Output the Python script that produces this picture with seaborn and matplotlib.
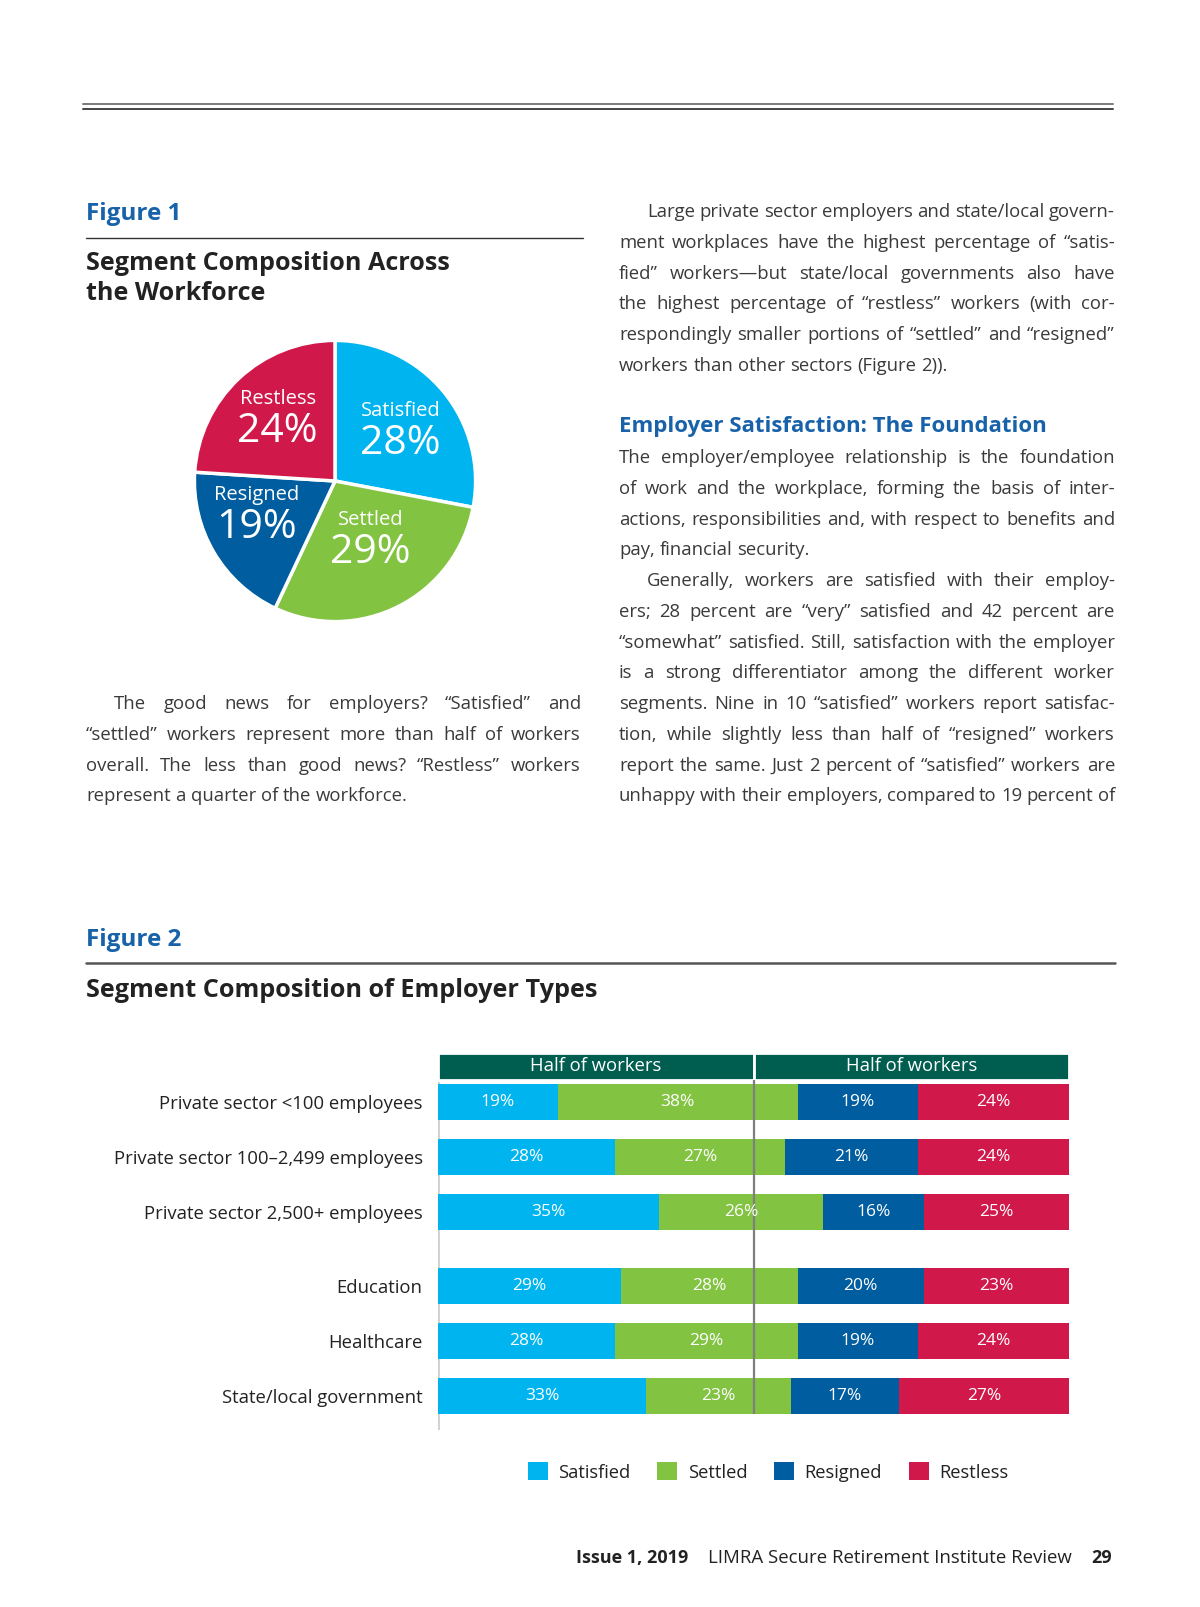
import numpy as np
import pandas as pd
import seaborn as sns
import matplotlib.pyplot as plt
from matplotlib.patches import Patch

# ---- Figure 1: pie of worker segments
pie_labels = ['Satisfied', 'Settled', 'Resigned', 'Restless']
pie_values = [28, 29, 19, 24]

# ---- Figure 2: segment composition by employer type
employers = ['Private sector <100 employees', 'Private sector 100\u20132,499 employees',
             'Private sector 2,500+ employees', 'Education', 'Healthcare',
             'State/local government']
satisfied = [19, 28, 35, 29, 28, 33]
settled = [38, 27, 26, 28, 29, 23]
resigned = [19, 21, 16, 20, 19, 17]
restless = [24, 24, 25, 23, 24, 27]
segments = ['Satisfied', 'Settled', 'Resigned', 'Restless']
header_labels = ['Half of workers', 'Half of workers']

palette = ['#00B5EF', '#82C341', '#005DA0', '#D0194A']
HEADER_GREEN = '#005E50'
BLUE = '#1862AA'
DARK = '#222222'
BODY_COLOR = '#3a3a3a'

W, H = 1200, 1607

sns.set_theme(style='white')
plt.rcParams['font.family'] = ['Open Sans', 'DejaVu Sans']

fig = plt.figure(figsize=(W / 100, H / 100), dpi=100)
fig.patch.set_facecolor('white')
renderer = fig.canvas.get_renderer()


def fx(x):
    return x / W


def fy(y):
    return 1 - y / H


def ftext(x, y, s, **kw):
    return fig.text(fx(x), fy(y), s, **kw)


def hline(x0, x1, y, color, lw):
    fig.add_artist(plt.Line2D([fx(x0), fx(x1)], [fy(y), fy(y)], color=color, lw=lw))


def text_width(s, size, weight='normal'):
    t = fig.text(0, 0, s, fontsize=size, fontweight=weight)
    w = t.get_window_extent(renderer).width
    t.remove()
    return w


BODY = 13.3


def paragraph(lines, x0, x1, y0, indent=0, last_full=False, step=30.75):
    space_w = text_width('x x', BODY) - text_width('xx', BODY)
    for i, line in enumerate(lines):
        y = y0 + i * step
        left = x0 + (indent if i == 0 else 0)
        words = line.split(' ')
        widths = [text_width(w, BODY) for w in words]
        is_last = (i == len(lines) - 1) and not last_full
        if is_last or len(words) == 1:
            gap = space_w
        else:
            gap = (x1 - left - sum(widths)) / (len(words) - 1)
        x = left
        for w, wd in zip(words, widths):
            ftext(x, y, w, fontsize=BODY, color=BODY_COLOR, va='center', ha='left')
            x += wd + gap


# ---- page furniture
hline(83, 1113, 103.5, '#7a7a7a', 1.4)
hline(83, 1113, 108.7, '#444444', 1.4)

ftext(86, 214, 'Figure 1', fontsize=17.5, fontweight='bold', color=BLUE, va='center')
hline(86, 583, 238, '#333333', 1.0)
ftext(86, 263, 'Segment Composition Across', fontsize=18.1, fontweight='bold', color=DARK, va='center')
ftext(86, 293, 'the Workforce', fontsize=18.1, fontweight='bold', color=DARK, va='center')

# ---- pie
ax_pie = fig.add_axes([fx(193), fy(623), 284 / W, 284 / H])
ax_pie.pie(pie_values, colors=palette, startangle=90, counterclock=False,
           wedgeprops=dict(edgecolor='white', linewidth=2.5))
ax_pie.set_xlim(-1.01, 1.01)
ax_pie.set_ylim(-1.01, 1.01)
ax_pie.set_aspect('equal')
ax_pie.axis('off')

label_pos = {'Satisfied': (0.465, 0.50), 'Settled': (0.254, -0.275),
             'Resigned': (-0.556, -0.099), 'Restless': (-0.408, 0.585)}
for name, val in zip(pie_labels, pie_values):
    lx, ly = label_pos[name]
    ax_pie.text(lx, ly, name, color='white', fontsize=14.5, ha='center', va='center')
    ax_pie.text(lx, ly - 0.235, '%d%%' % val, color='white', fontsize=29.5, ha='center', va='center')

# ---- body text
paragraph(['The good news for employers? \u201cSatisfied\u201d and',
           '\u201csettled\u201d workers represent more than half of workers',
           'overall. The less than good news? \u201cRestless\u201d workers',
           'represent a quarter of the workforce.'],
          86, 581, 704.2, indent=28)

paragraph(['Large private sector employers and state/local govern-',
           'ment workplaces have the highest percentage of \u201csatis-',
           'fied\u201d workers\u2014but state/local governments also have',
           'the highest percentage of \u201crestless\u201d workers (with cor-',
           'respondingly smaller portions of \u201csettled\u201d and \u201cresigned\u201d',
           'workers than other sectors (Figure 2)).'],
          619, 1115, 212.2, indent=28)

ftext(619, 426.4, 'Employer Satisfaction: The Foundation', fontsize=16, fontweight='bold',
      color=BLUE, va='center')

paragraph(['The employer/employee relationship is the foundation',
           'of work and the workplace, forming the basis of inter-',
           'actions, responsibilities and, with respect to benefits and',
           'pay, financial security.'],
          619, 1115, 458.2)

paragraph(['Generally, workers are satisfied with their employ-',
           'ers; 28 percent are \u201cvery\u201d satisfied and 42 percent are',
           '\u201csomewhat\u201d satisfied. Still, satisfaction with the employer',
           'is a strong differentiator among the different worker',
           'segments. Nine in 10 \u201csatisfied\u201d workers report satisfac-',
           'tion, while slightly less than half of \u201cresigned\u201d workers',
           'report the same. Just 2 percent of \u201csatisfied\u201d workers are',
           'unhappy with their employers, compared to 19 percent of'],
          619, 1115, 581.2, indent=28, last_full=True)

# ---- Figure 2 titles
ftext(86, 940, 'Figure 2', fontsize=17.5, fontweight='bold', color=BLUE, va='center')
hline(86, 1115, 963.5, '#555555', 1.8)
ftext(86, 990, 'Segment Composition of Employer Types', fontsize=18.2, fontweight='bold',
      color=DARK, va='center')

# ---- stacked bars
ROW = 54.8
ypos = [0, 1, 2, 3.36, 4.36, 5.36]
header_y = -0.65
top_px, bot_px = 1040, 1430
y_top = (top_px - 1102) / ROW
y_bot = (bot_px - 1102) / ROW

df = pd.DataFrame({'employer': employers, 'ypos': ypos, 'Satisfied': satisfied,
                   'Settled': settled, 'Resigned': resigned, 'Restless': restless})
cum = df[segments].cumsum(axis=1)

ax = fig.add_axes([fx(438), fy(bot_px), (1069 - 438) / W, (bot_px - top_px) / H])
for seg, col in reversed(list(zip(segments, palette))):
    sns.barplot(x=cum[seg], y=df['ypos'], orient='h', native_scale=True, color=col,
                saturation=1, width=0.66, errorbar=None, linewidth=0, ax=ax, zorder=2)

# segment value labels
for i in range(len(df)):
    start = 0
    for seg in segments:
        end = min(cum.loc[i, seg], 100)
        ax.text((start + end) / 2, df.loc[i, 'ypos'], '%d%%' % df.loc[i, seg],
                color='white', fontsize=12.5, ha='center', va='center', zorder=4)
        start = end

# header boxes
ax.barh([header_y, header_y], [50, 50], left=[0, 50], height=0.5, color=HEADER_GREEN,
        edgecolor='white', linewidth=2, zorder=3)
for k, lab in enumerate(header_labels):
    ax.text(25 + 50 * k, header_y, lab, color='white', fontsize=13.3, ha='center',
            va='center', zorder=4)

header_bottom = header_y + 0.25
ax.vlines(0, header_bottom, y_bot, color='#cfcfcf', lw=2, zorder=1)
ax.vlines(50, header_bottom, ypos[-1] + 0.33, color='#7f7f7f', lw=1.6, zorder=3)

ax.set_xlim(0, 100)
ax.set_ylim(y_bot, y_top)
ax.set_yticks(ypos)
ax.set_yticklabels(employers, fontsize=13.3, color=DARK)
ax.tick_params(axis='y', length=0, pad=11)
ax.set_xticks([])
ax.set_xlabel('')
ax.set_ylabel('')
for s in ax.spines.values():
    s.set_visible(False)

handles = [Patch(facecolor=c, edgecolor='none') for c in palette]
fig.legend(handles, segments, loc='center', bbox_to_anchor=(fx(768), fy(1472)), ncol=4,
           frameon=False, fontsize=13.2, handlelength=1.1, handleheight=1.1,
           columnspacing=1.45, handletextpad=0.57, labelcolor=DARK)

# ---- footer
ftext(688, 1558, 'Issue 1, 2019', fontsize=13, fontweight='bold', color=DARK,
      ha='right', va='center')
ftext(1072, 1558, 'LIMRA Secure Retirement Institute Review', fontsize=13.4, color=DARK,
      ha='right', va='center')
ftext(1112, 1558, '29', fontsize=13, fontweight='bold', color=DARK, ha='right', va='center')

fig.savefig('out.png', dpi=100, facecolor='white')
